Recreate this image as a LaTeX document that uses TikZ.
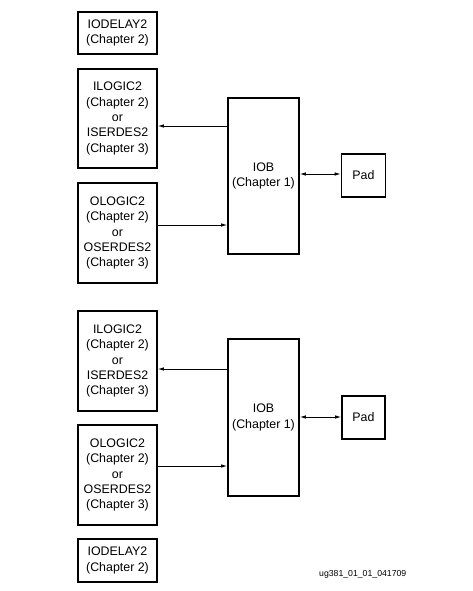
\documentclass[tikz,border=0pt]{standalone}
\usepackage{fontspec}
\setmainfont{Liberation Sans}
\usetikzlibrary{arrows.meta}
\begin{document}
\begin{tikzpicture}[x=1pt,y=-1pt,
  blk/.style={draw=black, line width=1.8pt, inner sep=0pt, align=center,
    font=\fontsize{12.4}{15.3}\selectfont},
  conn/.style={line width=0.8pt, -{Latex[length=6pt,width=3.5pt]}},
  bconn/.style={line width=0.8pt, {Latex[length=6pt,width=3.5pt]}-{Latex[length=6pt,width=3.5pt]}}]
\useasboundingbox (0,0) rectangle (472,591);
% top group
\node[blk, minimum width=79pt, minimum height=42pt] (d1) at (117.5,33) {IODELAY2\\(Chapter 2)};
\node[blk, minimum width=79pt, minimum height=99pt] (i1) at (117.5,118.5) {ILOGIC2\\(Chapter 2)\\or\\ISERDES2\\(Chapter 3)};
\node[blk, minimum width=79pt, minimum height=100pt] (o1) at (117.5,233) {OLOGIC2\\(Chapter 2)\\or\\OSERDES2\\(Chapter 3)};
\node[blk, minimum width=71pt, minimum height=156pt] (b1) at (263.5,176) {IOB\\(Chapter 1)};
\node[blk, minimum width=44pt, minimum height=43pt] (p1) at (363.5,175.5) {Pad};
\coordinate (b1i) at (b1.west |- 0,126);
\coordinate (b1o) at (b1.west |- 0,225);
\draw[conn] (b1i) -- (i1.east |- b1i);
\draw[conn] (o1.east |- b1o) -- (b1o);
\draw[bconn] (b1.east |- 0,174) -- (p1.west |- 0,174);
% bottom group
\node[blk, minimum width=79pt, minimum height=100pt] (i2) at (117.5,361) {ILOGIC2\\(Chapter 2)\\or\\ISERDES2\\(Chapter 3)};
\node[blk, minimum width=79pt, minimum height=100pt] (o2) at (117.5,475) {OLOGIC2\\(Chapter 2)\\or\\OSERDES2\\(Chapter 3)};
\node[blk, minimum width=79pt, minimum height=43pt] (d2) at (117.5,560.5) {IODELAY2\\(Chapter 2)};
\node[blk, minimum width=71pt, minimum height=157pt] (b2) at (263.5,417.5) {IOB\\(Chapter 1)};
\node[blk, minimum width=43pt, minimum height=43pt] (p2) at (363.5,417.5) {Pad};
\coordinate (b2i) at (b2.west |- 0,369);
\coordinate (b2o) at (b2.west |- 0,466);
\draw[conn] (b2i) -- (i2.east |- b2i);
\draw[conn] (o2.east |- b2o) -- (b2o);
\draw[bconn] (b2.east |- 0,417) -- (p2.west |- 0,417);
\node[anchor=base west, inner sep=0pt, font=\fontsize{8.7}{10}\selectfont] (lbl) at (319,576) {ug381\_01\_01\_041709};
\end{tikzpicture}
\end{document}
